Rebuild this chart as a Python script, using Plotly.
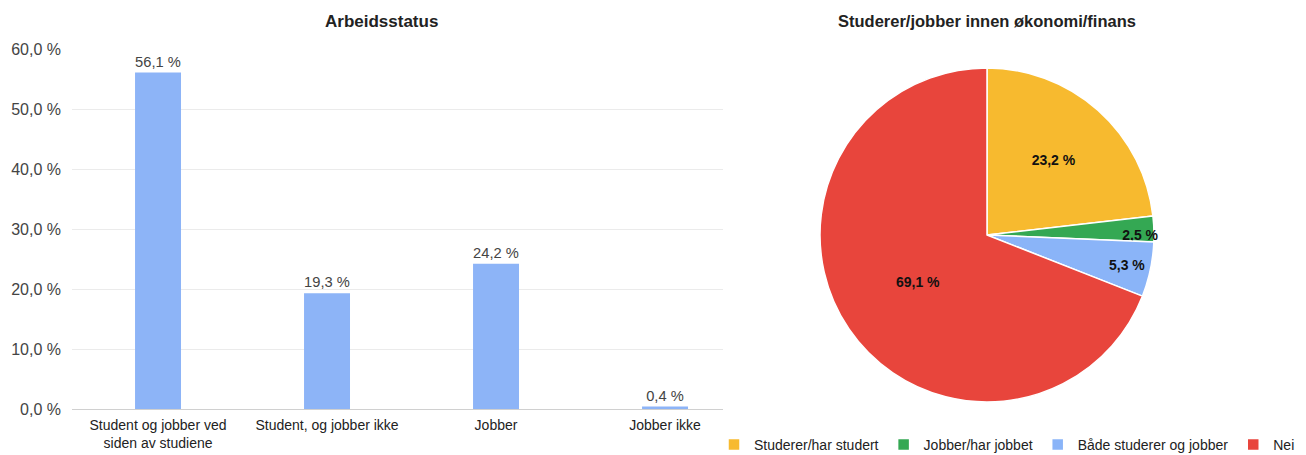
import plotly.graph_objects as go

W, H = 1306, 455

# Bar chart data
bar_categories = ["Student og jobber ved<br>siden av studiene", "Student, og jobber ikke", "Jobber", "Jobber ikke"]
bar_values = [56.1, 19.3, 24.2, 0.4]
y_tick_vals = [0, 10, 20, 30, 40, 50, 60]
y_tick_text = ["0,0 %", "10,0 %", "20,0 %", "30,0 %", "40,0 %", "50,0 %", "60,0 %"]

# Pie chart data
pie_labels = ["Studerer/har studert", "Jobber/har jobbet", "Både studerer og jobber", "Nei"]
pie_values = [23.2, 2.5, 5.3, 69.1]
pie_colors = ["#F7BA2F", "#34A853", "#8AB4F8", "#E8453C"]

def fmt(v):
    return f"{v:.1f}".replace(".", ",") + " %"

def px(x):
    return x / W

def py(y):
    return 1 - y / H

FONT = "Liberation Sans, Arial, sans-serif"

fig = go.Figure()

fig.add_trace(go.Bar(
    x=bar_categories, y=bar_values,
    marker=dict(color="#8DB4F7", line=dict(width=0)),
    text=[fmt(v) for v in bar_values],
    textposition="outside",
    textfont=dict(size=15.5, color="#444444", family=FONT),
    cliponaxis=False,
    showlegend=False,
    xaxis="x", yaxis="y",
))

fig.add_trace(go.Pie(
    labels=pie_labels, values=pie_values,
    marker=dict(colors=pie_colors, line=dict(color="white", width=1.5)),
    sort=False, direction="clockwise", rotation=0,
    text=[fmt(v) for v in pie_values],
    textinfo="text",
    textposition="inside",
    insidetextorientation="horizontal",
    textfont=dict(size=14, color="#111111", family=FONT, weight="bold"),
    hoverinfo="label+percent",
    domain=dict(x=[px(820), px(1154)], y=[py(402), py(68)]),
))

fig.update_layout(
    width=W, height=H,
    margin=dict(l=0, r=0, t=0, b=0, autoexpand=False),
    paper_bgcolor="white", plot_bgcolor="white",
    font=dict(family=FONT, color="#222222"),
    bargap=0.728,
    uniformtext=dict(minsize=14, mode="show"),
    xaxis=dict(
        domain=[px(72), px(723)],
        type="category",
        range=[-0.509, 3.343],
        showgrid=False, zeroline=False,
        showline=False,
        ticks="", automargin=False, ticklabelstandoff=6,
        tickfont=dict(size=14, color="#222222", family=FONT),
        anchor="y",
    ),
    yaxis=dict(
        domain=[py(409), py(49)],
        range=[0, 60],
        tickvals=y_tick_vals, ticktext=y_tick_text,
        showgrid=True, gridcolor="#EBEBEB", gridwidth=1,
        zeroline=True, zerolinecolor="#D0D0D0", zerolinewidth=1,
        showline=False, automargin=False,
        ticks="", ticklabelstandoff=10,
        tickfont=dict(size=16, color="#444444", family=FONT),
        anchor="x",
    ),
    legend=dict(
        orientation="h",
        x=px(714), xanchor="left",
        y=py(445), yanchor="middle",
        font=dict(size=14, color="#222222", family=FONT),
        itemwidth=30,
        bgcolor="rgba(0,0,0,0)",
    ),
    annotations=[
        dict(text="<b>Arbeidsstatus</b>", x=px(381), y=py(21), xref="paper", yref="paper",
             showarrow=False, xanchor="center", yanchor="middle",
             font=dict(size=17, color="#222222", family=FONT)),
        dict(text="<b>Studerer/jobber innen økonomi/finans</b>", x=px(987), y=py(21), xref="paper", yref="paper",
             showarrow=False, xanchor="center", yanchor="middle",
             font=dict(size=16.5, color="#222222", family=FONT)),
    ],
)

fig.write_html("out.html")
